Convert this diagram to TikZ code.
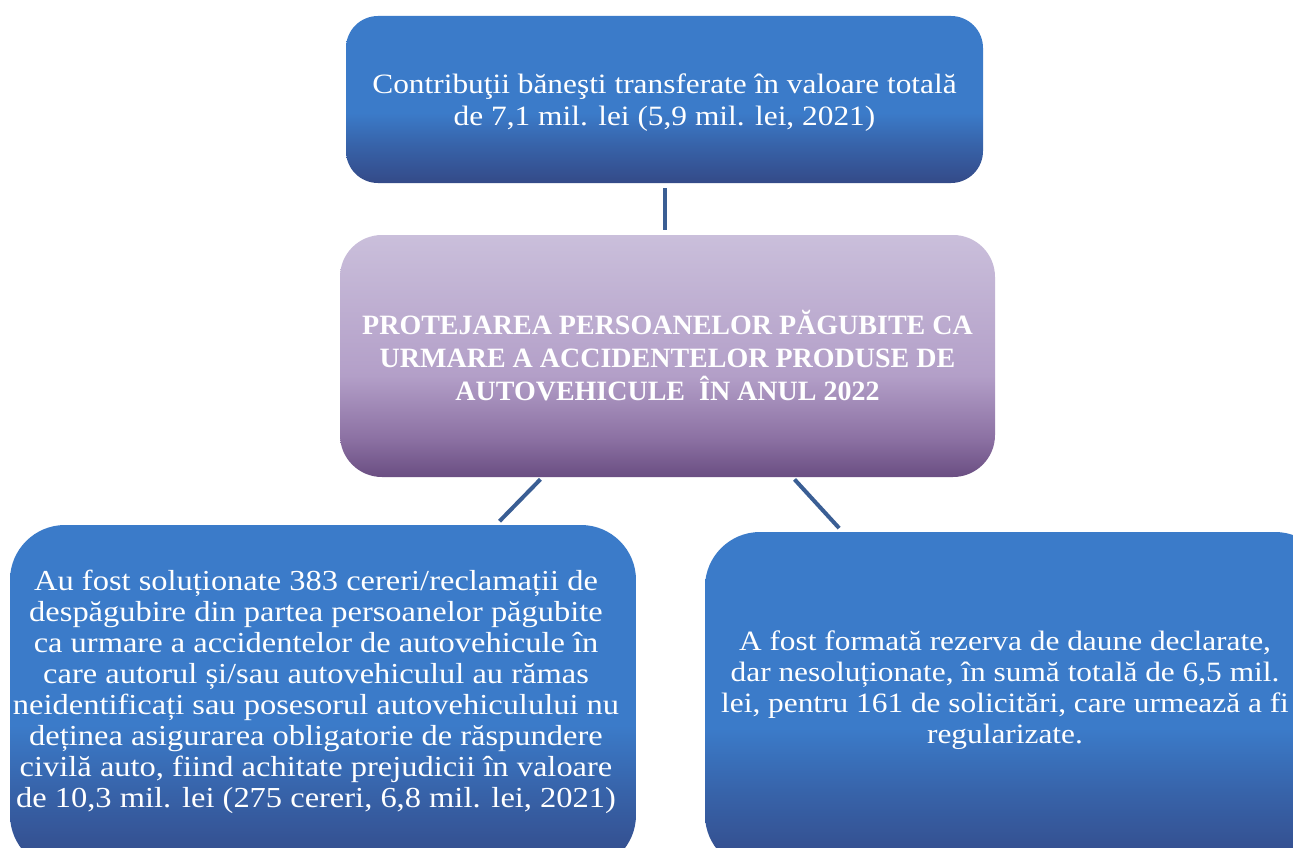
\documentclass[tikz,border=0pt]{standalone}
\usepackage{fontspec}
\setmainfont{Liberation Serif}
\newfontfamily\widefont[FakeStretch=1.12]{Liberation Serif}
\usetikzlibrary{positioning,calc}

\definecolor{boxblue}{HTML}{3B7BC9}
\definecolor{boxbluemid}{HTML}{3762A8}
\definecolor{boxbluedark}{HTML}{344A88}
\definecolor{lilactop}{HTML}{CABFDB}
\definecolor{lilacmid}{HTML}{B39FC8}
\definecolor{lilaclow}{HTML}{8C71A3}
\definecolor{lilacdark}{HTML}{6A4E82}
\definecolor{linkblue}{HTML}{3A5E94}

\pgfdeclareverticalshading{blueshade}{100bp}{color(0bp)=(boxbluedark); color(25bp)=(boxbluedark); color(36bp)=(boxbluemid); color(46bp)=(boxblue); color(100bp)=(boxblue)}
\pgfdeclareverticalshading{lilacshade}{100bp}{color(0bp)=(lilacdark); color(25bp)=(lilacdark); color(33bp)=(lilaclow); color(46bp)=(lilacmid); color(75bp)=(lilactop); color(100bp)=(lilactop)}

\tikzset{
  bluebox/.style={rectangle, shading=blueshade, draw=none},
  lilacbox/.style={rectangle, shading=lilacshade, draw=none},
  boxtext/.style={text=white, align=center, inner sep=0pt},
  link/.style={draw=linkblue, line width=4pt}
}

\begin{document}
\begin{tikzpicture}[x=1pt,y=-1pt]
  \useasboundingbox[fill=white] (0,0) rectangle (1293,848);
  \node[bluebox, rounded corners=32pt, minimum width=637pt, minimum height=167pt] (contrib) at (664.5,99.5) {};
  \node[boxtext, font={\widefont\fontsize{28}{32}\selectfont}] (contribtext) at (664.5,103)
    {Contribuţii băneşti transferate în valoare totală\\de 7,1 mil. lei (5,9 mil. lei, 2021)};
  \node[lilacbox, boxtext, rounded corners=42pt, minimum width=655pt, minimum height=242pt,
        font={\bfseries\fontsize{28}{33}\selectfont}] (topic) at (667.5,356)
    {PROTEJAREA PERSOANELOR PĂGUBITE CA\\URMARE A ACCIDENTELOR PRODUSE DE\\AUTOVEHICULE \ ÎN ANUL 2022};

  \node[bluebox, rounded corners=55pt, minimum width=626pt, minimum height=345pt] (claims) at (323,697.5) {};
  \node[boxtext, font={\widefont\fontsize{29}{31}\selectfont}] (claimstext) at (316,692)
    {Au fost soluționate 383 cereri/reclamații de\\
     despăgubire din partea persoanelor păgubite\\
     ca urmare a accidentelor de autovehicule în\\
     care autorul și/sau autovehiculul au rămas\\
     neidentificați sau posesorul autovehiculului nu\\
     deținea asigurarea obligatorie de răspundere\\
     civilă auto, fiind achitate prejudicii în valoare\\
     de 10,3 mil. lei (275 cereri, 6,8 mil. lei, 2021)};

  \node[bluebox, rounded corners=55pt, minimum width=625pt, minimum height=338pt] (reserve) at (1017.5,701) {};
  \node[boxtext, font={\widefont\fontsize{28}{31}\selectfont}] (reservetext) at (1005,690)
    {A fost formată rezerva de daune declarate,\\
     dar nesoluționate, în sumă totală de 6,5 mil.\\
     lei, pentru 161 de solicitări, care urmează a fi\\
     regularizate.};

  \draw[link, shorten <=5pt, shorten >=5pt] (contrib.south) -- (contrib.south |- topic.north);
  \draw[link, shorten <=3pt, shorten >=5pt] ([xshift=-125pt]topic.south) -- ([xshift=173pt]claims.north);
  \draw[link, shorten <=3pt, shorten >=5pt] ([xshift=125pt]topic.south) -- ([xshift=-175pt]reserve.north);
\end{tikzpicture}
\end{document}
